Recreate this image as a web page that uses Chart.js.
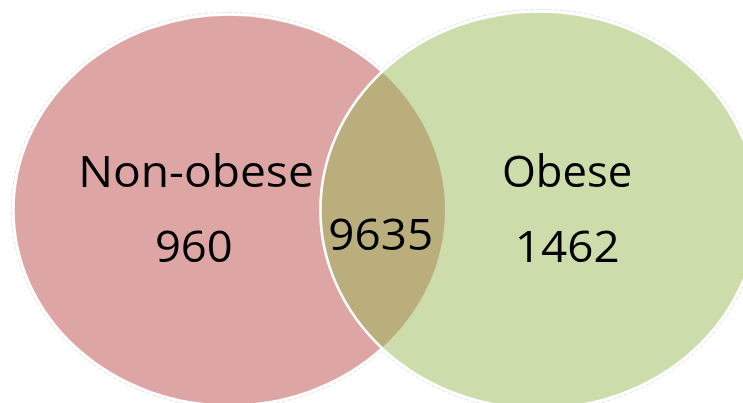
<!DOCTYPE html>
<html lang="en">
<head>
<meta charset="UTF-8">
<title>Non-obese vs Obese</title>
<style>
  html, body { margin: 0; padding: 0; background: #ffffff; overflow: hidden; }
  #wrap { position: relative; width: 743px; height: 403px; }
</style>
</head>
<body>
<div id="wrap"><canvas id="venn"></canvas></div>
<script src="https://cdn.jsdelivr.net/npm/chart.js@4.4.1/dist/chart.umd.min.js"></script>
<script>
// counts
const setNames = ['Non-obese', 'Obese'];
const onlyCounts = [960, 1462];
const sharedCount = 9635;

// layout, in chart units (x 0..743, y 0..403 from the top)
const ellipses = [
    { cx: 229.5, cy: 210, rx: 215.5, ry: 195, fill: '#dea5a5' },
    { cx: 539, cy: 210, rx: 218, ry: 198, fill: '#cddcab' }
];
const overlapFill = '#bbae7d';
// ink centre x, baseline y, ink width of each text
const nameBoxes = [{ x: 197, y: 186.5, w: 229 }, { x: 567, y: 186.5, w: 126 }];
const countBoxes = [{ x: 194, y: 261.5, w: 74 }, { x: 568, y: 261.5, w: 100 }];
const sharedBox = { x: 381, y: 250, w: 101 };

const labelTexts = setNames.concat(onlyCounts.map(String), [String(sharedCount)]);
const labelBoxes = nameBoxes.concat(countBoxes, [sharedBox]);

const vennPlugin = {
    id: 'venn',
    beforeDatasetsDraw(chart) {
        const ctx = chart.ctx;
        const xs = chart.scales.x, ys = chart.scales.y;
        const px = e => ({
            cx: xs.getPixelForValue(e.cx),
            cy: ys.getPixelForValue(e.cy),
            rx: Math.abs(xs.getPixelForValue(e.cx + e.rx) - xs.getPixelForValue(e.cx)),
            ry: Math.abs(ys.getPixelForValue(e.cy + e.ry) - ys.getPixelForValue(e.cy))
        });
        const path = (p, grow) => {
            ctx.beginPath();
            ctx.ellipse(p.cx, p.cy, p.rx + grow, p.ry + grow, 0, 0, Math.PI * 2);
        };
        const A = px(ellipses[0]), B = px(ellipses[1]);
        ctx.save();
        // faint grey halo outside the white rims
        ctx.strokeStyle = 'rgba(120,120,120,0.28)';
        ctx.lineWidth = 0.8;
        ctx.setLineDash([4, 2]);
        path(A, 2.6); ctx.stroke();
        path(B, 2.6); ctx.stroke();
        ctx.setLineDash([]);
        // left set
        path(A, 0); ctx.fillStyle = ellipses[0].fill; ctx.fill();
        ctx.strokeStyle = '#ffffff'; ctx.lineWidth = 2.6;
        path(A, 0.6); ctx.stroke();
        // right set
        path(B, 0); ctx.fillStyle = ellipses[1].fill; ctx.fill();
        // overlap
        ctx.save();
        path(A, 0); ctx.clip();
        path(B, 0); ctx.fillStyle = overlapFill; ctx.fill();
        ctx.restore();
        ctx.strokeStyle = '#ffffff'; ctx.lineWidth = 2.6;
        path(B, 0.6); ctx.stroke();
        ctx.restore();
    },
    afterDatasetsDraw(chart) {
        const ctx = chart.ctx;
        const meta = chart.getDatasetMeta(0);
        ctx.save();
        ctx.fillStyle = '#000000';
        ctx.textAlign = 'left';
        ctx.textBaseline = 'alphabetic';
        ctx.font = '43px "Open Sans", "Noto Sans", sans-serif';
        meta.data.forEach((pt, i) => {
            const txt = labelTexts[i];
            const box = labelBoxes[i];
            const m = ctx.measureText(txt);
            const ink = m.actualBoundingBoxRight + m.actualBoundingBoxLeft;
            const sx = box.w / ink;
            ctx.save();
            ctx.translate(pt.x, pt.y);
            ctx.scale(sx, 1);
            ctx.fillText(txt, -(m.actualBoundingBoxRight - m.actualBoundingBoxLeft) / 2, 0);
            ctx.restore();
        });
        ctx.restore();
    }
};

new Chart(document.getElementById('venn'), {
    type: 'scatter',
    data: {
        datasets: [{
            data: labelBoxes.map(b => ({ x: b.x, y: b.y })),
            pointRadius: 0,
            pointHoverRadius: 0
        }]
    },
    options: {
        responsive: true,
        maintainAspectRatio: false,
        animation: false,
        layout: { padding: 0 },
        scales: {
            x: { type: 'linear', min: 0, max: 743, display: false },
            y: { type: 'linear', min: 0, max: 403, reverse: true, display: false }
        },
        plugins: {
            legend: { display: false },
            tooltip: { enabled: false }
        },
        events: []
    },
    plugins: [vennPlugin]
});
</script>
</body>
</html>
